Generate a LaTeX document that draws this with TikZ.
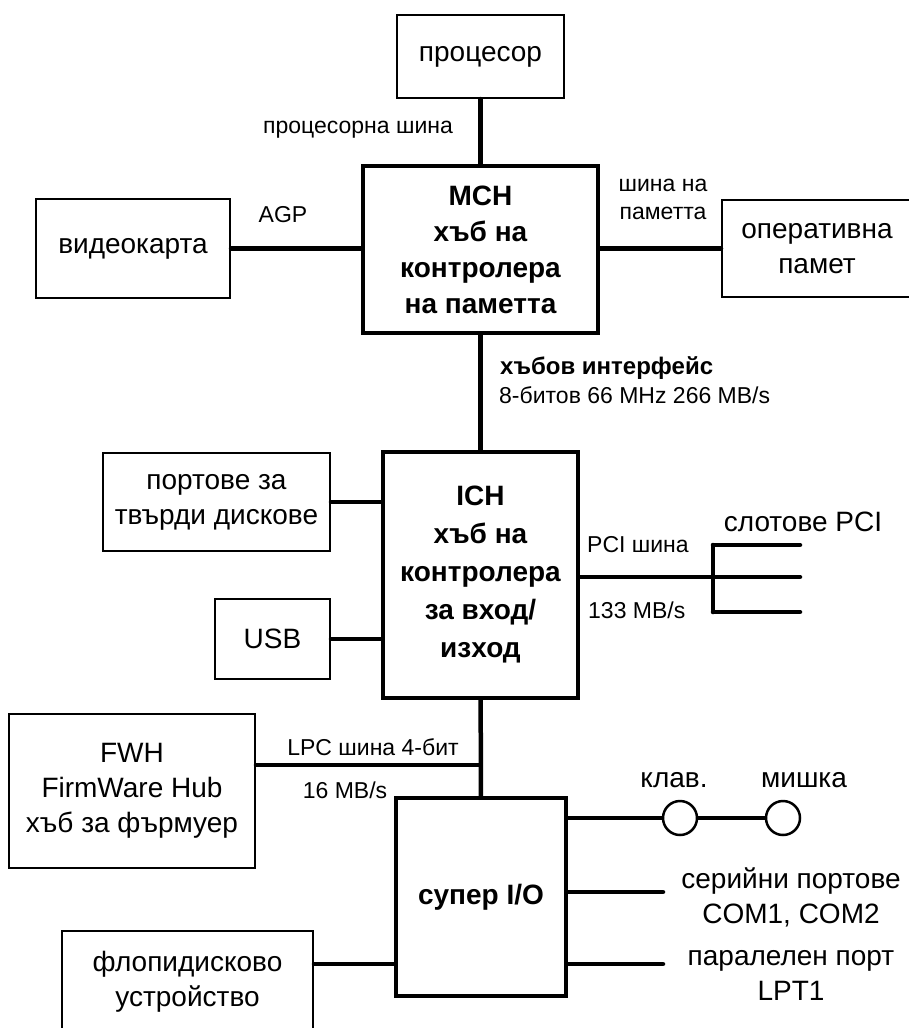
\documentclass[tikz,border=0pt]{standalone}
\usepackage{fontspec}
\setmainfont{Liberation Sans}
\usetikzlibrary{positioning,calc}

\begin{document}
\begin{tikzpicture} [x = 1pt, y = -1pt,
    box/.style = {draw, line width=2pt, align=center, inner sep=0pt,
                  font=\fontsize{28}{35}\selectfont},
    hub/.style = {draw, line width=4.5pt, align=center, inner sep=0pt,
                  font=\fontsize{28}{36}\selectfont\bfseries},
    bus/.style = {line width=4.5pt, line cap=round},
    lbl/.style = {align=center, inner sep=0pt, font=\fontsize{23}{28}\selectfont},
    big/.style = {align=center, inner sep=0pt, font=\fontsize{28}{35}\selectfont},
    port/.style = {circle, draw, line width=2.5pt, minimum size=34pt, inner sep=0pt, fill=white}]
            \clip (0,0) rectangle (909,1028);   % rama
            % hubove
            \node[hub, minimum width=235, minimum height=167] (mch) at (480.5,249.5) {MCH\\хъб на\\контролера\\на паметта};
            \node[hub, minimum width=195, minimum height=246, font=\fontsize{28}{38}\selectfont\bfseries] (ich) at (480.5,575) {ICH\\хъб на\\контролера\\за вход/\\изход};
            \node[hub, minimum width=170, minimum height=198] (sio) at (481,897) {супер I/O};
            % ustrojstva
            \node[box, minimum width=167, minimum height=83] (cpu) at (480.5,56.5) {процесор};
            \node[box, minimum width=194, minimum height=99] (vga) at (133,248.5) {видеокарта};
            \node[box, minimum width=190, minimum height=97] (ram) at (817,248.5) {оперативна\\памет};
            \node[box, minimum width=227, minimum height=98] (hdd) at (216.5,502) {портове за\\твърди дискове};
            \node[box, minimum width=115, minimum height=80] (usb) at (272.5,639) {USB};
            \node[box, minimum width=246, minimum height=154] (fwh) at (132,791) {FWH\\FirmWare Hub\\хъб за фърмуер};
            \node[box, minimum width=251, minimum height=102] (fdd) at (187.5,982) {флопидисково\\устройство};
            % shini
            \draw[bus] (cpu) -- (mch);
            \draw[bus] (vga.east) -- (vga.east -| mch.west);
            \draw[bus] (ram.west) -- (ram.west -| mch.east);
            \draw[bus] (mch) -- (ich);
            \draw[bus] (hdd.east) -- (hdd.east -| ich.west);
            \draw[bus] (usb.east) -- (usb.east -| ich.west);
            \draw[bus] (ich) -- (sio);
            \coordinate (lpc) at (480.5,765);
            \draw[bus] (fwh.east |- lpc) -- (lpc);
            % PCI
            \coordinate (pci) at (713,577);
            \draw[bus] (ich.east |- pci) -- (pci);
            \draw[bus] (713,545) -- (713,612);
            \foreach \y in {545,577,612}
                \draw[bus] (713,\y) -- (800,\y);
            % klaviatura i mishka
            \node[port] (kbd) at (680,818) {};
            \node[port] (mouse) at (783,818) {};
            \draw[bus] (sio.east |- kbd) -- (kbd) -- (mouse);
            \coordinate (com) at (663,892);
            \coordinate (lpt) at (663,964);
            \draw[bus] (sio.east |- com) -- (com);
            \draw[bus] (sio.east |- lpt) -- (lpt);
            \draw[bus] (fdd.east |- lpt) -- (sio.west |- lpt);
            % nadpisi
            \node[lbl] (cpubus) at (358,130) {процесорна шина};
            \node[lbl] (agp) at (283,215) {AGP};
            \node[lbl] (membus) at (663,199) {шина на\\паметта};
            \node[lbl, anchor=west, font=\fontsize{24}{28}\selectfont\bfseries] (hubif) at (500,368) {хъбов интерфейс};
            \node[lbl, anchor=west] (hubspd) at (499,395) {8-битов 66 MHz 266 MB/s};
            \node[lbl, anchor=west] (pcibus) at (587,545) {PCI шина};
            \node[lbl, anchor=west] (pcispd) at (588,610) {133 MB/s};
            \node[big] (slots) at (803,522) {слотове PCI};
            \node[lbl] (lpcbus) at (373,747) {LPC шина 4-бит};
            \node[lbl] (lpcspd) at (345,790) {16 MB/s};
            \node[big] (kbdtxt) at (674,780) {клав.};
            \node[big] (mousetxt) at (804,780) {мишка};
            \node[big] (comtxt) at (791,897) {серийни портове\\COM1, COM2};
            \node[big] (lpttxt) at (791,975) {паралелен порт\\LPT1};
\end{tikzpicture}
\end{document}
